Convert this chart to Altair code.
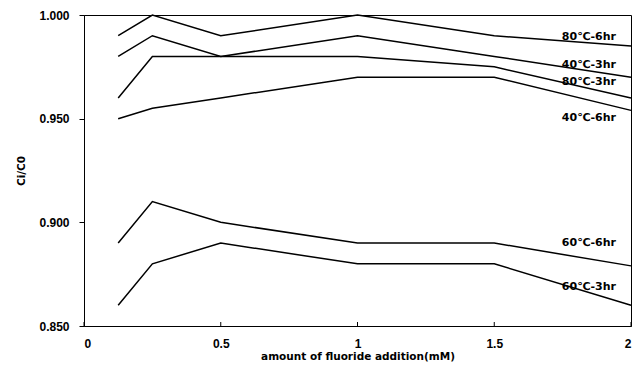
import altair as alt
import pandas as pd

x_vals = [0.125, 0.25, 0.5, 1.0, 1.5, 2.0]
series_names = ["80℃-6hr", "40℃-3hr", "80℃-3hr", "40℃-6hr", "60℃-6hr", "60℃-3hr"]
s_80_6 = [0.990, 1.000, 0.990, 1.000, 0.990, 0.985]
s_40_3 = [0.980, 0.990, 0.980, 0.990, 0.980, 0.970]
s_80_3 = [0.960, 0.980, 0.980, 0.980, 0.975, 0.960]
s_40_6 = [0.950, 0.955, 0.960, 0.970, 0.970, 0.954]
s_60_6 = [0.890, 0.910, 0.900, 0.890, 0.890, 0.879]
s_60_3 = [0.860, 0.880, 0.890, 0.880, 0.880, 0.860]
label_x = [1.945, 1.945, 1.945, 1.945, 1.945, 1.945]
label_y = [0.9895, 0.9759, 0.9675, 0.9503, 0.890, 0.8689]
x_ticks = [0, 0.5, 1, 1.5, 2]
y_ticks = [0.85, 0.9, 0.95, 1.0]

all_series = [s_80_6, s_40_3, s_80_3, s_40_6, s_60_6, s_60_3]
rows = []
for name, vals in zip(series_names, all_series):
    for xv, yv in zip(x_vals, vals):
        rows.append({"series": name, "x": xv, "y": yv})
df = pd.DataFrame(rows)
lab = pd.DataFrame({"series": series_names, "x": label_x, "y": label_y})
tk = pd.DataFrame({"x": x_ticks})

FONT = "Liberation Sans"
H = 311

xscale = alt.Scale(domain=[0, 2], nice=False, zero=False)
yscale = alt.Scale(domain=[0.85, 1.0], nice=False, zero=False)

lines = alt.Chart(df).mark_line(color="black", strokeWidth=1.5).encode(
    x=alt.X("x:Q", scale=xscale,
            axis=alt.Axis(title="amount of fluoride addition(mM)", values=x_ticks,
                          labelExpr="datum.value == 0 ? '0' : format(datum.value, '')",
                          grid=False, ticks=False, labelPadding=12, titlePadding=2,
                          titleFont="DejaVu Sans", titleFontSize=10.5)),
    y=alt.Y("y:Q", scale=yscale,
            axis=alt.Axis(title="Ci/C0", values=y_ticks, format=".3f",
                          grid=False, tickSize=5, labelPadding=10, titlePadding=12,
                          titleFont="DejaVu Sans", titleFontSize=10.5)),
    detail="series:N",
)

xticks = alt.Chart(tk).mark_rule(color="black", strokeWidth=1).encode(
    x=alt.X("x:Q", scale=xscale),
    y=alt.value(H),
    y2=alt.value(H - 4),
)

labels = alt.Chart(lab).mark_text(align="right", baseline="middle", font="DejaVu Sans",
                                   fontWeight="bold", fontSize=11, color="black").encode(
    x=alt.X("x:Q", scale=xscale),
    y=alt.Y("y:Q", scale=yscale),
    text="series:N",
)

chart = (lines + xticks + labels).properties(
    width=547, height=H,
    autosize=alt.AutoSizeParams(type="none"),
    padding={"left": 84, "top": 15, "right": 10, "bottom": 47},
    background="white",
).configure_view(stroke="black", strokeWidth=1).configure_axis(
    labelFont=FONT, titleFont=FONT, labelFontWeight="bold", titleFontWeight="bold",
    labelFontSize=12, titleFontSize=11.5, labelColor="black", titleColor="black",
    domainColor="black", tickColor="black", domainWidth=1,
)

chart.save("out.html", embed_options={"renderer": "svg", "actions": False})
